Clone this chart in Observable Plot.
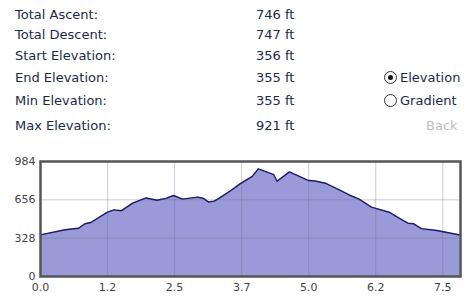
<!DOCTYPE html>
<html><head><meta charset="utf-8">
<script src="https://cdn.jsdelivr.net/npm/d3@7"></script>
<script src="https://cdn.jsdelivr.net/npm/@observablehq/plot@0.6"></script>
<style>
body{margin:0;width:470px;height:297px;overflow:hidden;background:#fff;font-family:"DejaVu Sans",Verdana,sans-serif;}
.t{position:absolute;font-size:13px;color:#1c2a45;line-height:16px;white-space:nowrap;}
.r{position:absolute;width:11px;height:11px;border:1px solid #333;border-radius:50%;background:#fff;}
.d{position:absolute;left:3px;top:3px;width:5px;height:5px;border-radius:50%;background:#111;}
#chart{position:absolute;left:0;top:150px;}
</style></head><body>
<div id="hdr"></div>
<div id="chart"></div>
<script>
const statLabels = ["Total Ascent:", "Total Descent:", "Start Elevation:", "End Elevation:", "Min Elevation:", "Max Elevation:"];
const statValues = ["746 ft", "747 ft", "356 ft", "355 ft", "355 ft", "921 ft"];
const options = ["Elevation", "Gradient"];
const backLabel = "Back";

const miles = [0, 0.46, 0.71, 0.83, 0.94, 1.24, 1.37, 1.51, 1.72, 1.97, 2.17, 2.34, 2.48, 2.65, 2.93, 3.03, 3.13, 3.24, 3.35, 3.55, 3.72, 3.95, 4.06, 4.35, 4.41, 4.64, 5.0, 5.12, 5.31, 5.59, 5.78, 5.94, 6.17, 6.5, 6.67, 6.85, 6.96, 7.1, 7.39, 7.82];
const elevation = [356, 400, 413, 451, 462, 548, 570, 563, 628, 672, 652, 668, 693, 662, 679, 670, 638, 645, 675, 736, 793, 857, 921, 871, 815, 895, 821, 817, 798, 736, 693, 662, 593, 550, 503, 456, 451, 410, 394, 355];
const xTicks = [0, 1.25, 2.5, 3.75, 5, 6.25, 7.5];
const xTickLabels = ["0.0", "1.2", "2.5", "3.7", "5.0", "6.2", "7.5"];
const yTicks = [0, 328, 656, 984];

// header
const hdr = document.getElementById("hdr");
const rowY = [7, 27, 48, 70, 93, 118];
statLabels.forEach((s, i) => {
  const a = document.createElement("div"); a.className = "t"; a.style.left = "15px"; a.style.top = rowY[i] + "px"; a.textContent = s; hdr.appendChild(a);
  const b = document.createElement("div"); b.className = "t"; b.style.left = "256px"; b.style.top = rowY[i] + "px"; b.textContent = statValues[i]; hdr.appendChild(b);
});
options.forEach((o, i) => {
  const y = rowY[3 + i];
  const r = document.createElement("div"); r.className = "r"; r.style.left = "384px"; r.style.top = (y + 1) + "px";
  if (i === 0) { const d = document.createElement("div"); d.className = "d"; r.appendChild(d); }
  hdr.appendChild(r);
  const l = document.createElement("div"); l.className = "t"; l.style.left = "400px"; l.style.top = y + "px"; l.textContent = o; hdr.appendChild(l);
});
const bk = document.createElement("div"); bk.className = "t"; bk.style.left = "426px"; bk.style.top = rowY[5] + "px"; bk.style.color = "#bdbdbd"; bk.textContent = backLabel; hdr.appendChild(bk);

const data = miles.map((m, i) => ({mile: m, elev: elevation[i]}));

const chart = Plot.plot({
  width: 470, height: 147,
  marginLeft: 40, marginRight: 10, marginTop: 11, marginBottom: 21,
  style: {fontFamily: "DejaVu Sans, Verdana, sans-serif", fontSize: "11px", color: "#444", background: "transparent"},
  x: {domain: [0, 7.83], ticks: xTicks, tickFormat: (d) => xTickLabels[xTicks.indexOf(d)], tickSize: 0, tickPadding: 7, label: null},
  y: {domain: [0, 984], ticks: yTicks, tickSize: 0, tickPadding: 5, label: null},
  marks: [
    Plot.areaY(data, {x: "mile", y: "elev", fill: "#9a9ad8"}),
    Plot.gridX(xTicks, {stroke: "#6a6a8a", strokeOpacity: 0.35}),
    Plot.gridY(yTicks, {stroke: "#6a6a8a", strokeOpacity: 0.35}),
    Plot.lineY(data, {x: "mile", y: "elev", stroke: "#1c1c6a", strokeWidth: 1.4}),
    Plot.frame({stroke: "#555", strokeWidth: 2.5}),
    Plot.axisX({ticks: xTicks, tickFormat: (d) => xTickLabels[xTicks.indexOf(d)], tickSize: 0, tickPadding: 7, label: null}),
    Plot.axisY({ticks: yTicks, tickSize: 0, tickPadding: 5, label: null})
  ]
});
document.getElementById("chart").appendChild(chart);
</script>
</body></html>
